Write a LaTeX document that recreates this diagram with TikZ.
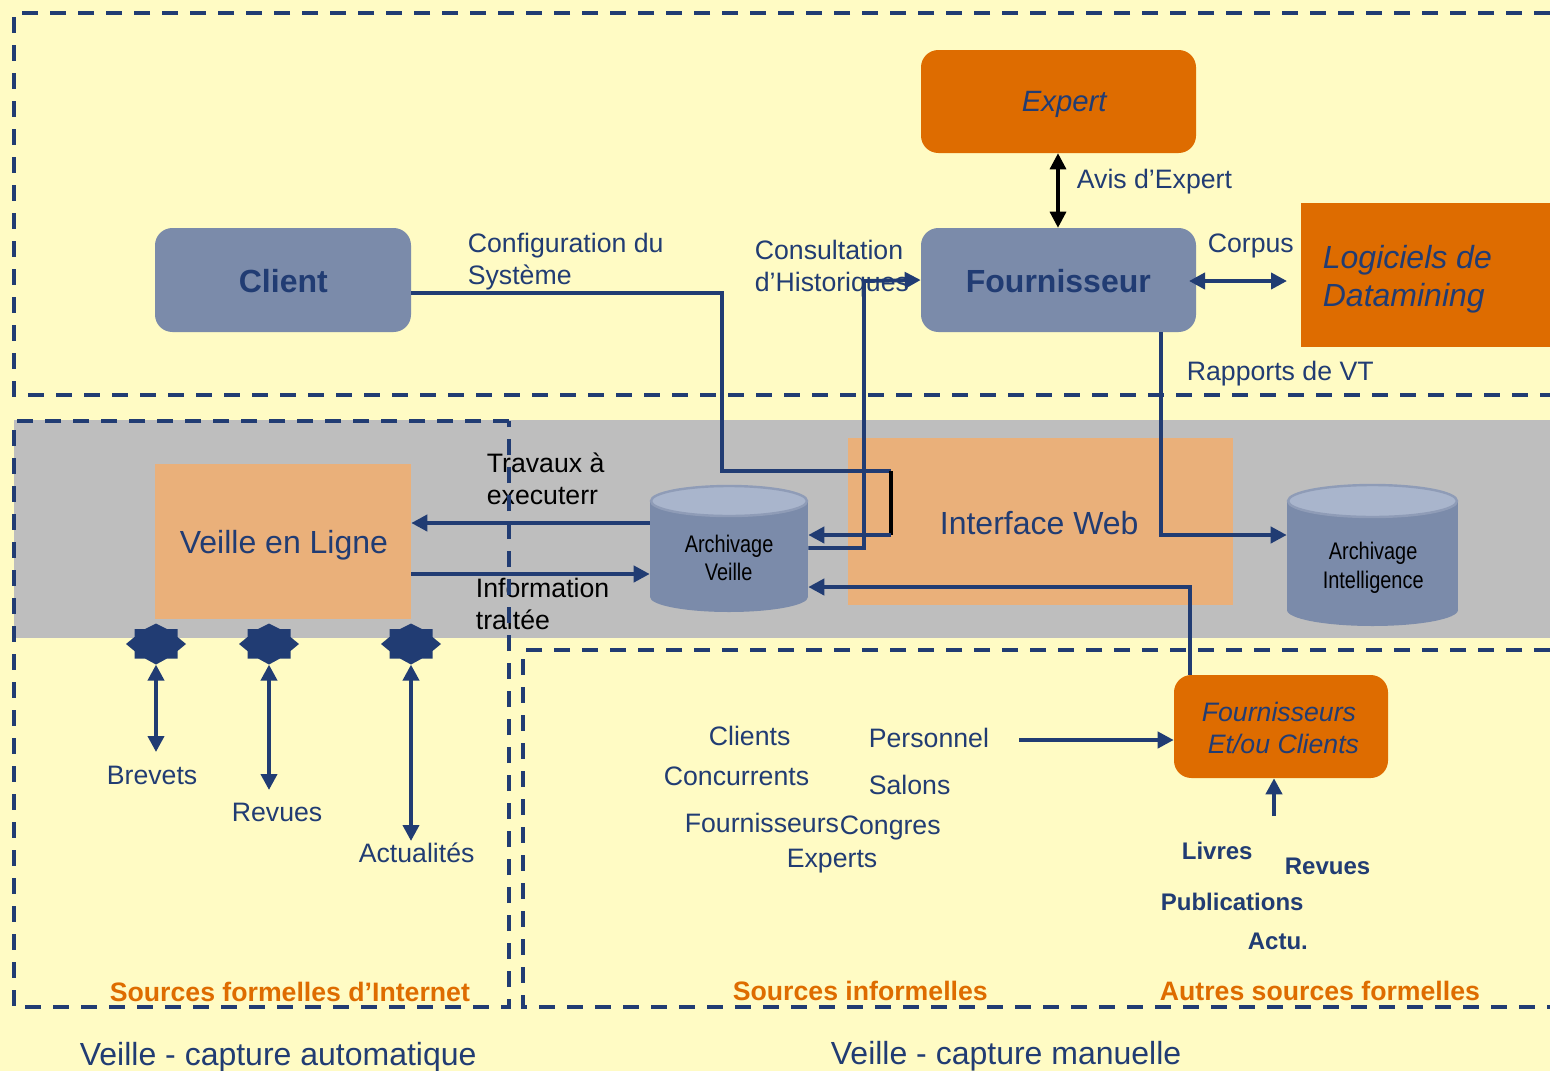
\documentclass[tikz,border=0pt]{standalone}
\usepackage{fontspec}
\setmainfont{Liberation Sans}
\usetikzlibrary{arrows.meta,calc}
\definecolor{bgy}{HTML}{FFFBC4}
\definecolor{bandgray}{HTML}{BEBEBE}
\definecolor{navy}{HTML}{213C73}
\definecolor{orangeD}{HTML}{DE6C00}
\definecolor{orangeL}{HTML}{EAB07A}
\definecolor{slate}{HTML}{7B8BAA}
\definecolor{slateL}{HTML}{A9B5CC}
\tikzset{
 frameline/.style={draw=navy,line width=2.7pt,dash pattern=on 12pt off 9pt},
 boxnode/.style={inner sep=0pt,align=center},
 rbox/.style={boxnode,rounded corners=13pt,fill=#1},
 flatbox/.style={boxnode,fill=#1},
 cylnode/.style={inner sep=0pt,align=center,text=black},
 lbl/.style={anchor=base west,inner sep=0pt,xshift=-0.3pt,text=navy,font=\fontsize{20}{24}\selectfont},
 lblb/.style={lbl,font=\fontsize{18}{22}\selectfont\bfseries},
 lblbig/.style={lbl,font=\fontsize{24}{28}\selectfont},
 lblbigb/.style={lbl,font=\fontsize{24}{28}\selectfont\bfseries},
 srctext/.style={lbl,text=orangeD,font=\fontsize{20}{24}\selectfont\bfseries},
 captext/.style={lbl,font=\fontsize{24}{28}\selectfont},
 cyltext/.style={lbl,text=black,font=\fontsize{18}{21}\selectfont,xscale=0.83},
 linkline/.style={draw=navy,line width=2.9pt,-{Triangle[length=12pt,width=12pt]}},
 plainline/.style={draw=navy,line width=2.9pt},
 bothline/.style={draw=navy,line width=2.9pt,{Triangle[length=12pt,width=12pt]}-{Triangle[length=12pt,width=12pt]}},
 bothblack/.style={draw=black,line width=2.4pt,{Triangle[length=12pt,width=12pt]}-{Triangle[length=12pt,width=12pt]}},
 starnode/.style={inner sep=0pt,minimum width=45pt,minimum height=30.5pt},
}
\newcommand{\eightstar}[1]{\fill[navy,shift={(#1)}] (0,-20.5)--(11,-15)--(21.5,-15)--(21.5,-7)--(30,0)--(21.5,7)--(21.5,14.5)--(11,14.5)--(0,20.5)--(-11,14.5)--(-21.5,14.5)--(-21.5,7)--(-30,0)--(-21.5,-7)--(-21.5,-15)--(-11,-15)--cycle;}
\newcommand{\cylshape}[5]{% x1 x2 ytop ybot ry
 \fill[slate] (#1,#3) rectangle (#2,#4);
 \fill[slate] ({(#1+#2)/2},#4) ellipse [x radius={(#2-#1)/2},y radius=#5];
 \filldraw[fill=slateL,draw=slate!85!white,line width=1.8pt] ({(#1+#2)/2},#3) ellipse [x radius={(#2-#1)/2-1},y radius=#5];
}
\begin{document}
\begin{tikzpicture}[x=0.75pt,y=-0.75pt]
\useasboundingbox (0,0) rectangle (1550,1071);
\fill[bgy] (0,0) rectangle (1550,1071);
\fill[bandgray] (14,420) rectangle (1550,638);

% boxes
\node[flatbox=orangeL,minimum width=288.75pt,minimum height=125.25pt] (web) at (1040.5,521.5) {};
\node[flatbox=orangeL,minimum width=192pt,minimum height=116.25pt] (veille) at (283,541.5) {};
\node[rbox=orangeD,minimum width=206.25pt,minimum height=77.25pt] (expert) at (1058.5,101.5) {};
\node[rbox=slate,minimum width=192pt,minimum height=78pt] (client) at (283,280) {};
\node[rbox=slate,minimum width=206.25pt,minimum height=78pt] (four) at (1058.5,280) {};
\node[flatbox=orangeD,minimum width=186.75pt,minimum height=108pt] (logi) at (1425.5,275) {};
\node[rbox=orangeD,minimum width=160.5pt,minimum height=77.25pt] (fc) at (1281,726.5) {};

% cylinders
\cylshape{650}{808}{501}{597}{15}
\cylshape{1287}{1458}{501}{610}{16}
\node[cylnode,minimum width=118.5pt,minimum height=95pt] (archv) at (729,548.5) {};
\node[cylnode,minimum width=128.25pt,minimum height=105pt] (archi) at (1372.5,555) {};

% stars
\eightstar{156,644}\eightstar{269,644}\eightstar{411,644}
\node[starnode] (s1) at (156,644) {};
\node[starnode] (s2) at (269,644) {};
\node[starnode] (s3) at (411,644) {};

% labels
\node[lblbig] (veilleT) at (180,553) {Veille en Ligne};
\node[lblbigb] (clientT) at (239,292) {Client};
\node[lblbigb] (fourT) at (966,292) {Fournisseur};
\node[lbl,font=\fontsize{22}{26}\selectfont\itshape] (expertT) at (1022,111) {Expert};
\node[lbl] (avis) at (1077,188) {Avis d’Expert};
\node[lbl] (conf1) at (468,252) {Configuration du};
\node[lbl] (conf2) at (468,284) {Système};
\node[lbl] (cons1) at (755,259) {Consultation};
\node[lbl] (cons2) at (755,291) {d’Historiques};
\node[lbl] (corpus) at (1208,252) {Corpus};
\node[lbl,font=\fontsize{24}{28}\selectfont\itshape] (logi1) at (1323,268) {Logiciels de};
\node[lbl,font=\fontsize{24}{28}\selectfont\itshape] (logi2) at (1323,306) {Datamining};
\node[lbl] (rapp) at (1187,380) {Rapports de VT};
\node[lblbig] (webT) at (940,534) {Interface Web};
\node[cyltext] (av1) at (685,552) {Archivage};
\node[cyltext] (av2) at (705,580) {Veille};
\node[cyltext] (ai1) at (1329,559) {Archivage};
\node[cyltext] (ai2) at (1323,588) {Intelligence};
\node[lbl,text=black] (tr1) at (487,472) {Travaux à};
\node[lbl,text=black] (tr2) at (487,504) {executerr};
\node[lbl,text=black] (in1) at (476,597) {Information};
\node[lbl,text=black] (in2) at (476,629) {traitée};
\node[lbl] (brev) at (107,784) {Brevets};
\node[lbl] (rev) at (232,821) {Revues};
\node[lbl] (actu) at (359,862) {Actualités};
\node[lbl] (i1) at (709,745) {Clients};
\node[lbl] (i2) at (664,785) {Concurrents};
\node[lbl] (i3) at (685,832) {Fournisseurs};
\node[lbl] (i4) at (869,747) {Personnel};
\node[lbl] (i5) at (869,794) {Salons};
\node[lbl] (i6) at (840,834) {Congres};
\node[lbl] (i7) at (787,867) {Experts};
\node[lbl,font=\fontsize{20}{24}\selectfont\itshape] (fc1) at (1202,721) {Fournisseurs};
\node[lbl,font=\fontsize{20}{24}\selectfont\itshape] (fc2) at (1208,753) {Et/ou Clients};
\node[lblb] (f1) at (1182,859) {Livres};
\node[lblb] (f2) at (1285,874) {Revues};
\node[lblb] (f3) at (1161,910) {Publications};
\node[lblb] (f4) at (1248,949) {Actu.};
\node[srctext] (sA) at (110,1001) {Sources formelles d’Internet};
\node[srctext] (sB) at (733,1000) {Sources informelles};
\node[srctext] (sC) at (1160,1000) {Autres sources formelles};
\node[captext] (c1) at (80,1065) {Veille - capture automatique};
\node[captext] (c2) at (831,1064) {Veille - capture manuelle};

% free ends
\coordinate (brevE) at (156,752);
\coordinate (revE) at (269,790);
\coordinate (actuE) at (411,841);
\coordinate (persE) at (1019,740);
\coordinate (pubE) at (1274,816);
\coordinate (corpE) at (1287,281);
\coordinate (corpS) at (1189,281);

% connectors
\draw[plainline] (client.east |- 0,293) -| (722,471) -- (891,471);
\draw[draw=black,line width=2.3pt] (891,471) -- (891,535);
\draw[linkline] (891,535) -- (archv.east |- 0,535);
\draw[linkline] (archv.east |- 0,548) -| (864,281) -- (four.west);
\draw[linkline] (archv.west |- 0,523) -- (veille.east |- 0,523);
\draw[linkline] (veille.east |- 0,574) -- (archv.west |- 0,574);
\draw[linkline] (1190,0 |- fc.north) |- (archv.east |- 0,587);
\draw[linkline] (1161,0 |- four.south) |- (archi.west |- 0,535);
\draw[bothblack] (1058,0 |- expert.south) -- (1058,0 |- four.north);
\draw[bothline] (corpS) -- (corpE);
\draw[bothline] (s1.south) -- (brevE);
\draw[bothline] (s2.south) -- (revE);
\draw[bothline] (s3.south) -- (actuE);
\draw[linkline] (persE) -- (fc.west |- persE);
\draw[linkline] (pubE) -- (pubE |- fc.south);

% dashed frames
\draw[frameline] (1550,13) -- (14,13) -- (14,395) -- (1550,395);
\draw[frameline] (509,421) -- (14,421) -- (14,1007) -- (509,1007) -- cycle;
\draw[frameline] (1550,650) -- (523,650) -- (523,1007) -- (1550,1007);
\end{tikzpicture}
\end{document}
